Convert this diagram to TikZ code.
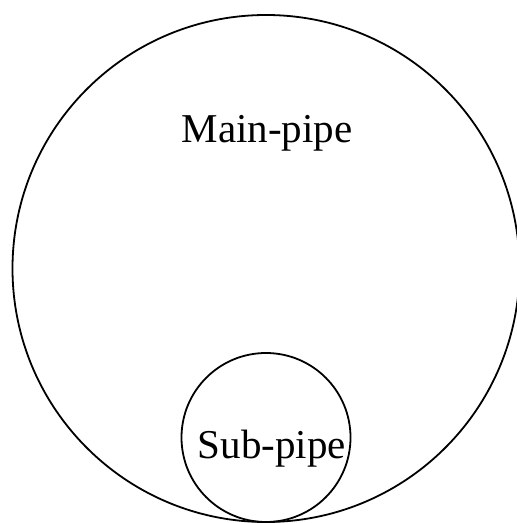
\documentclass[tikz,border=0pt]{standalone}
\usepackage{fontspec}
\setmainfont{Liberation Serif}

\tikzset{
  pipe/.style={line width=0.9pt, black},
  pipelabel/.style={anchor=base, inner sep=0pt, font=\fontsize{20.5}{24}\selectfont}
}

\begin{document}
\begin{tikzpicture}[x=0.5pt, y=-0.5pt]
    % --- frame of the picture ---
    \clip (0,0) rectangle (517,523);

    % --- centres of the two pipes ---
    \coordinate (M) at (266,268.5);
    \coordinate (S) at (266,437.5);
    \def\rMain{253.5}
    \def\rSub{84.5}

    % --- pipes ---
    \draw[pipe] (M) circle (\rMain);
    \draw[pipe] (S) circle (\rSub);

    % --- labels ---
    \node[pipelabel] (mainlabel) at (267,143) {Main-pipe};
    \node[pipelabel] (sublabel) at (272,458) {Sub-pipe};
\end{tikzpicture}
\end{document}
